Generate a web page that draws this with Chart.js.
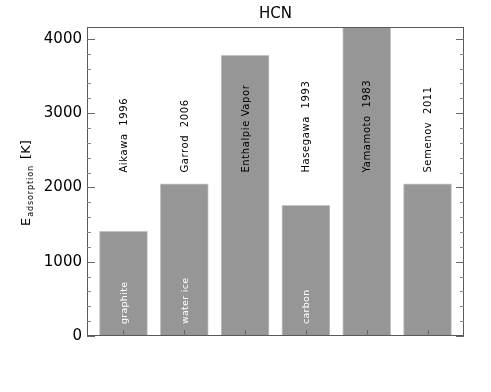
<!DOCTYPE html>
<html>
<head>
<meta charset="utf-8">
<script src="https://cdn.jsdelivr.net/npm/chart.js@4.4.1/dist/chart.umd.min.js"></script>
<style>
  html, body { margin: 0; padding: 0; background: #fff; }
  #wrap { width: 491px; height: 392px; }
</style>
</head>
<body>
<div id="wrap"><canvas id="hcnChart"></canvas></div>
<script>
// HCN adsorption energies

const sources = ["Aikawa  1996", "Garrod  2006", "Enthalpie Vapor", "Hasegawa  1993", "Yamamoto  1983", "Semenov  2011"];
const surfaces = ["graphite", "water ice", "", "carbon", "", ""];
const energies = [1410, 2050, 3780, 1760, 4200, 2050];
const yTicks = [0, 1000, 2000, 3000, 4000];

const yMax = 4160;
const minorStep = 200;
const sourceLabelAt = 2200;
const surfaceLabelAt = 160;

const theme = {
    bar: "#969696",
    barEdge: "#c4c4c4",
    frame: "#5a5a5a",
    tick: "#666666",
    minor: "#8a8a8a",
    text: "#000000"
};

const font = "'DejaVu Sans', sans-serif";

const decorations = {
    id: "decorations",
    afterDatasetsDraw(chart) {
        const c = chart.ctx;
        const a = chart.chartArea;
        const x = chart.scales.x;
        const y = chart.scales.y;

        c.save();

        // frame
        c.strokeStyle = theme.frame;
        c.lineWidth = 1;
        c.strokeRect(a.left + 0.5, a.top + 0.5, a.right - a.left - 1, a.bottom - a.top - 1);

        // y ticks, both sides, pointing inwards
        for (let v = 0; v <= yMax; v += minorStep) {
            const py = Math.round(y.getPixelForValue(v)) + 0.5;
            const major = v % 1000 === 0;
            const len = major ? 8 : 4;
            c.strokeStyle = major ? theme.tick : theme.minor;
            c.beginPath();
            c.moveTo(a.left, py); c.lineTo(a.left + len, py);
            c.moveTo(a.right, py); c.lineTo(a.right - len, py);
            c.stroke();
        }

        // x ticks at bar centres
        c.strokeStyle = theme.tick;
        sources.forEach((s, i) => {
            const px = Math.round(x.getPixelForValue(i)) + 0.5;
            c.beginPath();
            c.moveTo(px, a.bottom);
            c.lineTo(px, a.bottom - 6);
            c.stroke();
        });

        // vertical labels
        c.textAlign = "left";
        c.textBaseline = "alphabetic";
        sources.forEach((s, i) => {
            const px = x.getPixelForValue(i);
            c.save();
            c.translate(px + 3.5, y.getPixelForValue(sourceLabelAt));
            c.rotate(-Math.PI / 2);
            c.fillStyle = theme.text;
            c.font = "10px " + font;
            c.letterSpacing = "0.6px";
            c.fillText(s, 0, 0);
            c.restore();

            if (surfaces[i]) {
                c.save();
                c.translate(px + 3.5, y.getPixelForValue(surfaceLabelAt));
                c.rotate(-Math.PI / 2);
                c.fillStyle = "#ffffff";
                c.font = "9.5px " + font;
                c.letterSpacing = "0.3px";
                c.fillText(surfaces[i], 0, 0);
                c.restore();
            }
        });

        // title
        c.fillStyle = theme.text;
        c.font = "15px " + font;
        c.textAlign = "center";
        c.textBaseline = "middle";
        c.fillText("HCN", (a.left + a.right) / 2, 14);

        // y axis title with subscript
        c.save();
        c.translate(30, 226);
        c.rotate(-Math.PI / 2);
        c.textAlign = "left";
        c.textBaseline = "alphabetic";
        c.font = "13px " + font;
        c.fillText("E", 0, 0);
        let off = c.measureText("E").width;
        c.font = "8px " + font;
        c.letterSpacing = "0.9px";
        c.fillText("adsorption", off + 1, 3);
        off += c.measureText("adsorption").width + 1;
        c.letterSpacing = "0px";
        c.font = "13px " + font;
        c.fillText(" [K]", off + 2, 0);
        c.restore();

        c.restore();
    }
};

const ctx = document.getElementById("hcnChart");

new Chart(ctx, {
    type: "bar",
    data: {
        datasets: [{
            label: "HCN",
            data: energies.map((v, i) => ({ x: i, y: v })),
            backgroundColor: theme.bar,
            borderColor: theme.barEdge,
            borderWidth: 1,
            barThickness: 48
        }]
    },
    options: {
        responsive: true,
        maintainAspectRatio: false,
        animation: false,
        layout: {
            padding: { top: 27, right: 27, bottom: 56, left: 0 }
        },
        plugins: {
            legend: { display: false },
            tooltip: { enabled: false },
            title: { display: false }
        },
        scales: {
            x: {
                type: "linear",
                display: false,
                offset: false,
                min: -0.6,
                max: 5.6
            },
            y: {
                min: 0,
                max: yMax,
                afterFit: s => { s.width = 87; },
                afterBuildTicks: s => { s.ticks = yTicks.map(v => ({ value: v })); },
                grid: { display: false, drawTicks: false },
                border: { display: false },
                ticks: {
                    color: theme.text,
                    padding: 5,
                    font: { family: font, size: 15 },
                    callback: v => String(v)
                }
            }
        }
    },
    plugins: [decorations]
});
</script>
</body>
</html>
